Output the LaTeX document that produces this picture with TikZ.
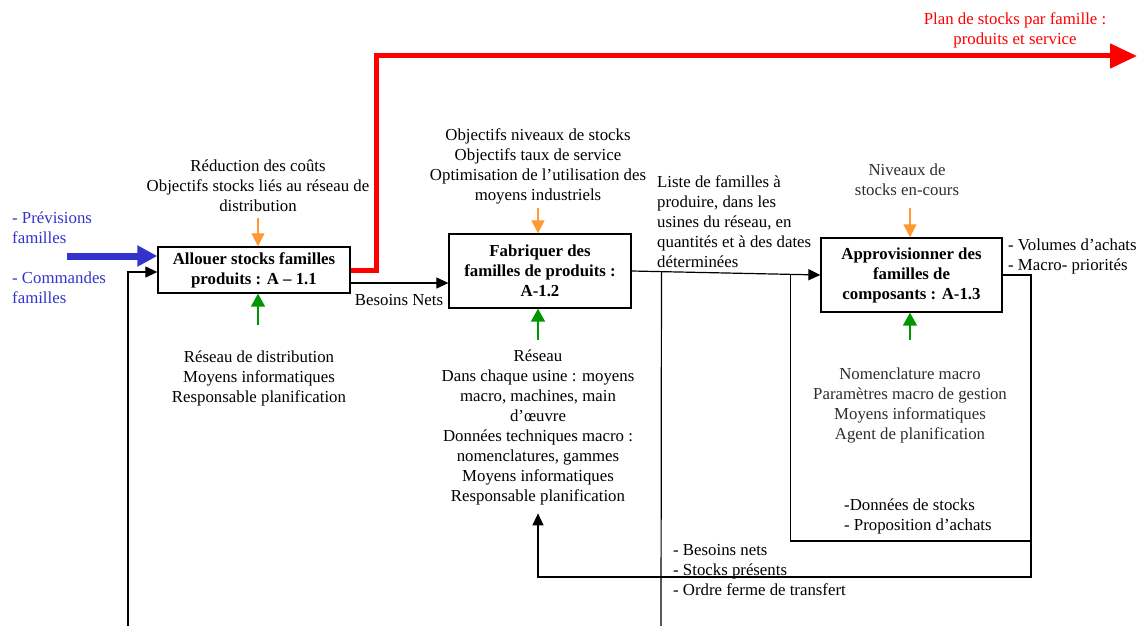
\documentclass[tikz,border=0pt]{standalone}
\usepackage{fontspec}
\setmainfont{Liberation Serif}
\usetikzlibrary{arrows.meta, positioning, calc}
\definecolor{ctrlorange}{RGB}{255,153,51}
\definecolor{mechgreen}{RGB}{0,150,0}
\definecolor{inblue}{RGB}{51,51,204}
\definecolor{planred}{RGB}{255,0,0}
\definecolor{softgray}{RGB}{45,45,45}

\begin{document}
\begin{tikzpicture}[x=1pt, y=-1pt,
  font=\fontsize{16.8}{20}\selectfont,
  proc/.style={draw, line width=1.3pt, fill=white, inner sep=2pt, align=center, font=\fontsize{16.8}{20}\selectfont\bfseries},
  lbl/.style={inner sep=0pt, align=center},
  listlbl/.style={inner sep=0pt, align=left, anchor=west},
  line/.style={line width=1.2pt},
  flow/.style={line width=1.2pt, -{Triangle[length=12pt,width=11pt]}},
  ctrl/.style={draw=ctrlorange, line width=1.2pt, -{Triangle[length=13pt,width=13pt]}, ctrlorange},
  mech/.style={draw=mechgreen, line width=1.8pt, -{Triangle[length=13pt,width=14pt]}, mechgreen},
  feed/.style={draw=inblue, line width=7pt, -{Triangle[length=20pt,width=20pt]}, inblue},
  plan/.style={draw=planred, line width=5pt, -{Triangle[length=27pt,width=24pt]}, planred}]
  \useasboundingbox (0,0) rectangle (1145,626);

  \node[proc, minimum width=192pt, minimum height=46pt] (A11) at (254,270) {Allouer stocks familles\\produits : A -- 1.1};
  \node[proc, minimum width=182pt, minimum height=74pt] (A12) at (540,271) {Fabriquer des\\familles de produits :\\A-1.2};
  \node[proc, minimum width=181pt, minimum height=74pt] (A13) at (911.5,275) {Approvisionner des\\familles de\\composants : A-1.3};

  \node[lbl] (t11) at (258,186) {Réduction des coûts\\Objectifs stocks liés au réseau de\\distribution};
  \node[lbl] (t12) at (538,166) {Objectifs niveaux de stocks\\Objectifs taux de service\\Optimisation de l’utilisation des\\moyens industriels};
  \node[lbl, text=softgray] (t13) at (907,180) {Niveaux de\\stocks en-cours};
  \node[lbl] (b11) at (259,378) {Réseau de distribution\\Moyens informatiques\\Responsable planification};
  \node[lbl] (b12) at (538,427.5) {Réseau\\Dans chaque usine : moyens\\macro, machines, main\\d’œuvre\\Données techniques macro :\\nomenclatures, gammes\\Moyens informatiques\\Responsable planification};
  \node[lbl, text=softgray] (b13) at (910,405) {Nomenclature macro\\Paramètres macro de gestion\\Moyens informatiques\\Agent de planification};
  \node[listlbl] (stk) at (844,516) {-Données de stocks\\ - Proposition d’achats};
  \node[listlbl] (bes) at (673,570) {- Besoins nets\\- Stocks présents\\- Ordre ferme de transfert};
  \node[listlbl] (lst) at (657,222) {Liste de familles à\\produire, dans les\\usines du réseau, en\\quantités et à des dates\\déterminées};
  \node[listlbl] (vol) at (1008,256) {- Volumes d’achats\\- Macro- priorités};
  \node[listlbl, text=inblue] (prev) at (12,228) {- Prévisions\\familles};
  \node[listlbl, text=inblue] (cmd) at (12,288) {- Commandes\\familles};
  \node[lbl] (bn) at (399,300) {Besoins Nets};
  \node[lbl, text=planred] (pl) at (1015,30) {Plan de stocks par famille :\\produits et service};

  \coordinate (c11) at (258,218);
  \coordinate (c12) at (538,208);
  \coordinate (c13) at (910,208);
  \coordinate (m11) at (258,325);
  \coordinate (m12) at (538,340);
  \coordinate (m13) at (910,340);
  \coordinate (in11) at (67,256);
  \coordinate (loopA) at (128,626);
  \coordinate (loopB) at (661,626);
  \coordinate (planend) at (1137,56);
  \coordinate (j12) at ($(A12.east)!0.158!(A13.west)$);
  \coordinate (j13) at ($(A12.east)!0.842!(A13.west)$);
  \coordinate (s13) at (1031,541);
  \coordinate (r13) at (1031,577);

  \draw[ctrl] (c11) -- (c11 |- A11.north);
  \draw[ctrl] (c12) -- (c12 |- A12.north);
  \draw[ctrl] (c13) -- (c13 |- A13.north);
  \draw[mech] (m11) -- (m11 |- A11.south);
  \draw[mech] (m12) -- (m12 |- A12.south);
  \draw[mech] (m13) -- (m13 |- A13.south);
  \draw[feed] (in11) -- (in11 -| A11.west);
  \draw[flow] (loopA) |- ([yshift=-2pt]A11.west);
  \draw[plan] (A11.east) -- ++(26,0) |- (planend);
  \draw[flow] ([yshift=-13pt]A11.east) -- ([yshift=-13pt]A11.east -| A12.west);
  \draw[flow] (A12.east) -- (A13.west);
  \draw[line] (j12) -- (loopB);
  \draw[line] (j13) |- (s13);
  \draw[flow] (A13.east) -| (r13) -| ([yshift=-8pt]b12.south);
\end{tikzpicture}
\end{document}
